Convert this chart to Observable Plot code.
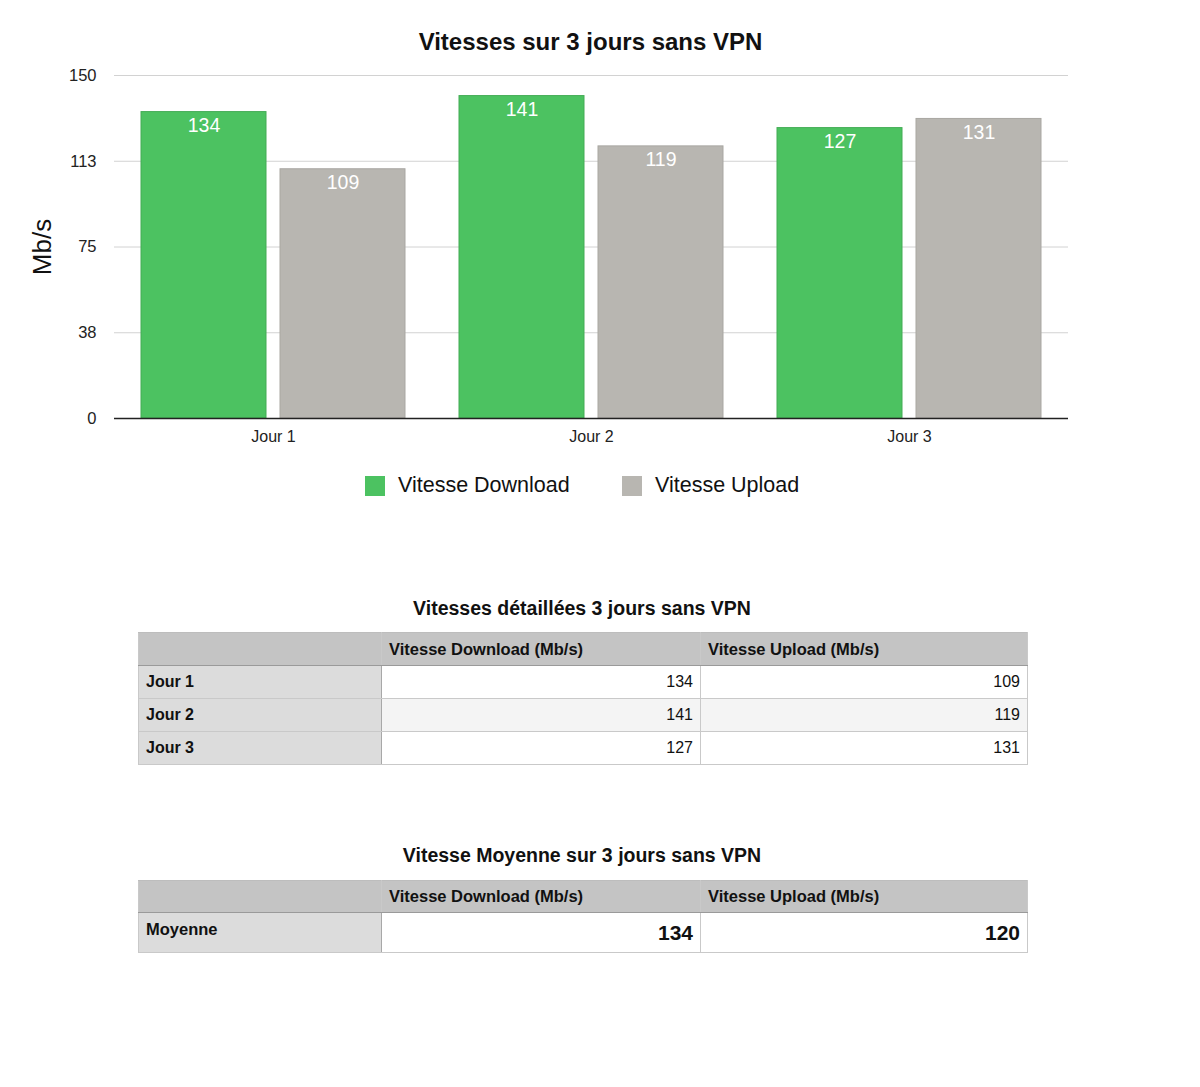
<!DOCTYPE html>
<html>
<head>
<meta charset="utf-8">
<script src="https://cdn.jsdelivr.net/npm/d3@7"></script>
<script src="https://cdn.jsdelivr.net/npm/@observablehq/plot@0.6"></script>
<style>
  html, body { margin: 0; padding: 0; background: #fff; }
  body { width: 1200px; height: 1087px; position: relative; font-family: "Liberation Sans", Arial, Helvetica, sans-serif; color: #111; overflow: hidden; }
  .abs { position: absolute; }
  #title { left: 113px; width: 955px; top: 28px; text-align: center; font-size: 24px; font-weight: bold; }
  #chart { left: 0; top: 60px; }
  #ylabel { left: 42px; top: 247px; transform: translate(-50%, -50%) rotate(-90deg); font-size: 26px; white-space: nowrap; }
  #legend { top: 473px; left: 0; width: 1200px; height: 26px; }
  .lg { position: absolute; top: 0; display: flex; align-items: center; font-size: 21.5px; }
  .sw { width: 20px; height: 20px; margin-right: 13px; }
  .ttitle { left: 138px; width: 888px; text-align: center; font-size: 19.5px; font-weight: bold; }
  table { position: absolute; left: 138px; border-collapse: collapse; table-layout: fixed; width: 889px; }
  td, th { border: 1px solid #c9c9c9; padding: 0 7px; box-sizing: border-box; font-size: 16px; }
  th { background: #c4c4c4; text-align: left; font-size: 16.5px; font-weight: bold; border-bottom: 1px solid #9a9a9a; border-top: 1px solid #bdbdbd; }
  td.rl { background: #dcdcdc; font-weight: bold; font-size: 16px; border-right: 1px solid #a8a8a8; }
  td.v { text-align: right; }
  tr.alt td.v { background: #f4f4f4; }
  table.avg td.v { font-weight: bold; font-size: 21px; }
  table.avg td.rl { font-size: 16.5px; }
</style>
</head>
<body>
<div id="title" class="abs">Vitesses sur 3 jours sans VPN</div>
<div id="chart" class="abs"></div>
<div id="ylabel" class="abs">Mb/s</div>
<div id="legend" class="abs"></div>
<div id="t1title" class="abs ttitle" style="top:597px;">Vitesses détaillées 3 jours sans VPN</div>
<div id="t2title" class="abs ttitle" style="top:844px;">Vitesse Moyenne sur 3 jours sans VPN</div>
<script>
// ---- data ----
const days = ["Jour 1", "Jour 2", "Jour 3"];
const seriesNames = ["Vitesse Download", "Vitesse Upload"];
const downloadValues = [134, 141, 127];
const uploadValues = [109, 119, 131];
const yTickValues = [0, 37.5, 75, 112.5, 150];
const yTickLabels = ["0", "38", "75", "113", "150"];
const seriesColors = ["#4cc261", "#b8b6b1"];
const seriesStrokes = ["#43ac55", "#a9a7a2"];
const tableHeaders = ["", "Vitesse Download (Mb/s)", "Vitesse Upload (Mb/s)"];
const avgLabel = "Moyenne";
const avgDownload = 134;
const avgUpload = 120;

const data = [];
days.forEach((d, i) => {
  data.push({day: d, series: seriesNames[0], value: downloadValues[i]});
  data.push({day: d, series: seriesNames[1], value: uploadValues[i]});
});
const tickLabelMap = new Map(yTickValues.map((v, i) => [v, yTickLabels[i]]));

const chart = Plot.plot({
  width: 1200,
  height: 395,
  marginLeft: 113,
  marginRight: 132,
  marginTop: 15,
  marginBottom: 37,
  style: {fontFamily: "'Liberation Sans', Arial, sans-serif", color: "#222", background: "white"},
  fx: {domain: days, padding: 0, label: null},
  x: {domain: seriesNames, paddingInner: 0.1, paddingOuter: 0.186, axis: null},
  y: {domain: [0, 150], axis: null},
  color: {domain: seriesNames, range: seriesColors},
  marks: [
    Plot.gridY(yTickValues.slice(1), {stroke: "#d2d2d2", strokeOpacity: 1, strokeWidth: 1}),
    Plot.barY(data, {fx: "day", x: "series", y: "value", fill: "series",
      stroke: d => seriesStrokes[seriesNames.indexOf(d.series)], strokeWidth: 1}),
    Plot.ruleY([0], {stroke: "#222", strokeWidth: 1.5}),
    Plot.text(data, {fx: "day", x: "series", y: "value", text: d => String(d.value),
      fill: "white", fontSize: 19.5, lineAnchor: "top", dy: 6}),
    Plot.axisY(yTickValues, {tickSize: 0, tickPadding: 18, fontSize: 16.5, label: null,
      tickFormat: d => tickLabelMap.get(d), fill: "#222"}),
    Plot.axisFx({anchor: "bottom", tickSize: 0, tickPadding: 12, fontSize: 16, label: null, fill: "#222"})
  ]
});
document.getElementById("chart").appendChild(chart);

// legend
const legend = d3.select("#legend");
const legendX = [365, 622];
seriesNames.forEach((s, i) => {
  const item = legend.append("div").attr("class", "lg").style("left", legendX[i] + "px");
  item.append("div").attr("class", "sw").style("background", seriesColors[i]);
  item.append("span").text(s);
});

// tables
const colWidths = [243, 319, 327];
function makeTable(top, rows, cls, headerH, rowH) {
  const t = d3.select("body").append("table").attr("class", cls).style("top", top + "px");
  const cg = t.append("colgroup");
  colWidths.forEach(w => cg.append("col").style("width", w + "px"));
  t.append("tr").style("height", headerH + "px")
    .selectAll("th").data(tableHeaders).join("th").text(d => d);
  rows.forEach((r, i) => {
    const tr = t.append("tr").style("height", rowH + "px").attr("class", i === 1 ? "alt" : null);
    tr.append("td").attr("class", "rl").text(r[0]);
    tr.append("td").attr("class", "v").text(r[1]);
    tr.append("td").attr("class", "v").text(r[2]);
  });
  return t;
}
makeTable(632, days.map((d, i) => [d, downloadValues[i], uploadValues[i]]), "detail", 33, 33);
const t2 = makeTable(880, [[avgLabel, avgDownload, avgUpload]], "avg", 32, 40);
t2.selectAll("td.rl").style("vertical-align", "top").style("padding-top", "7px");
</script>
</body>
</html>
